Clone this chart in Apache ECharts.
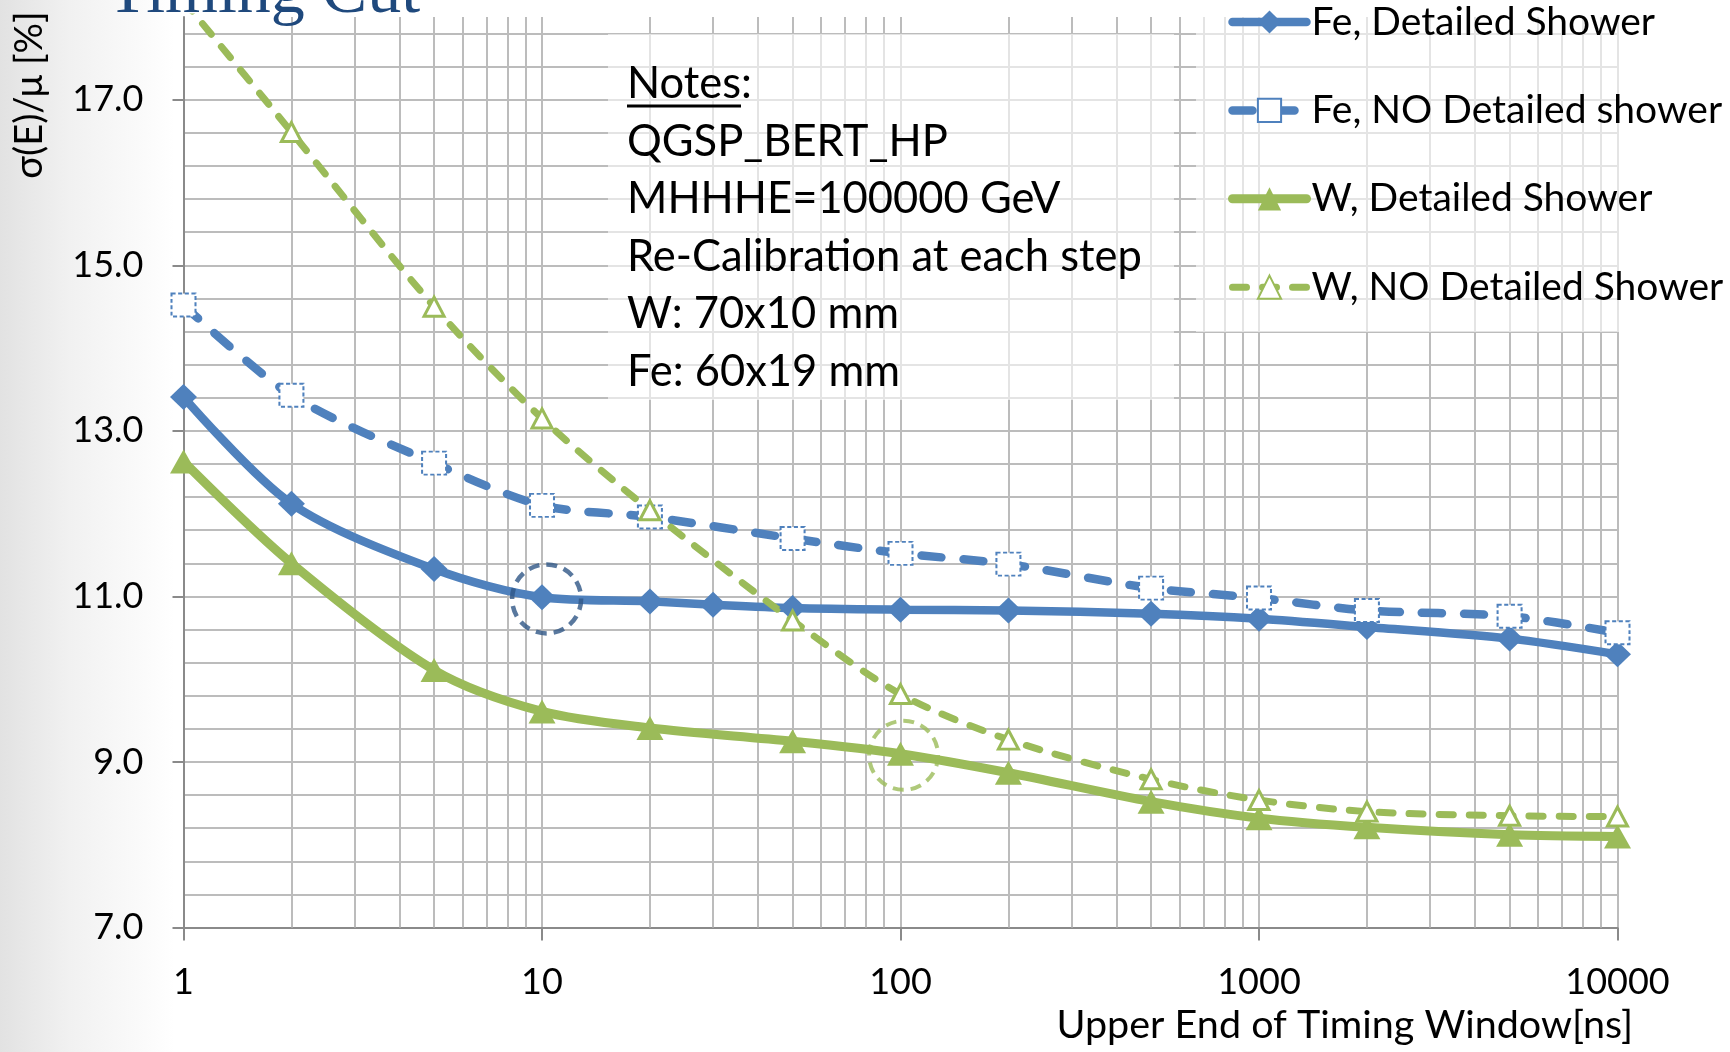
<!DOCTYPE html>
<html><head><meta charset="utf-8">
<script src="https://cdn.jsdelivr.net/npm/echarts@6/dist/echarts.min.js"></script>
<style>
html,body{margin:0;padding:0;width:1730px;height:1052px;overflow:hidden;background:#fff;}
#c{width:1730px;height:1052px;background:linear-gradient(90deg,#e2e2e2 0px,#f1f1f1 70px,#ffffff 175px);}
</style></head><body><div id="c"></div>
<script>
// ---- data ----
const timesFull = [1, 2, 5, 10, 20, 30, 50, 100, 200, 500, 1000, 2000, 5000, 10000];
const timesMain = [1, 2, 5, 10, 20, 50, 100, 200, 500, 1000, 2000, 5000, 10000];
const feDetailed   = [13.41, 12.12, 11.33, 10.99, 10.94, 10.90, 10.86, 10.84, 10.83, 10.79, 10.73, 10.63, 10.49, 10.30];
const feNoDetailed = [14.52, 13.43, 12.61, 12.10, 11.96, 11.70, 11.52, 11.39, 11.10, 10.98, 10.83, 10.76, 10.56];
const wDetailed    = [12.63, 11.40, 10.11, 9.61, 9.41, 9.25, 9.10, 8.87, 8.52, 8.32, 8.21, 8.12, 8.10];
const wNoDetailed  = [18.2, 16.61, 14.50, 13.15, 12.04, 10.71, 9.82, 9.27, 8.79, 8.54, 8.40, 8.35, 8.34];
const seriesNames = ['Fe, Detailed Shower', 'Fe, NO Detailed shower', 'W, Detailed Shower', 'W, NO Detailed Shower'];
const yTickLabels = [7, 9, 11, 13, 15, 17];
const xTickLabels = [1, 10, 100, 1000, 10000];
const highlightFe = [[10.3, 10.97]];
const highlightW = [[102, 9.08]];
const notesLines = ['Notes:', 'QGSP_BERT_HP', 'MHHHE=100000 GeV', 'Re-Calibration at each step', 'W: 70x10 mm', 'Fe: 60x19 mm'];
const chartTitle = 'Timing Cut';
const yTitle = 'σ(E)/μ [%]';
const xTitle = 'Upper End of Timing Window[ns]';

// minor log grid values 2..9 in every decade
const minorGridX = [];
xTickLabels.slice(0, -1).forEach(d => { for (let m = 2; m <= 9; m++) minorGridX.push(d * m); });

const BLUE = '#4F81BD', GREEN = '#9BBB59', GRID = '#bcbcbc', AXIS = '#8a8a8a';
const FONT = 'Lato, "Noto Sans", sans-serif';
const pair = (xs, ys) => xs.map((x, i) => [x, ys[i]]);

const chart = echarts.init(document.getElementById('c'), null, {renderer: 'canvas'});

const graphics = [
  {type: 'rect', shape: {x: 608, y: 34, width: 566, height: 366}, style: {fill: 'rgba(255,255,255,0.6)'}, z: 4, silent: true},
  {type: 'rect', shape: {x: 1196, y: 0, width: 534, height: 332}, style: {fill: 'rgba(255,255,255,0.6)'}, z: 4, silent: true},
  {type: 'text', x: 107, y: -6, z: 10, silent: true,
   style: {text: chartTitle, fontSize: 68, fontFamily: '"Liberation Serif", serif', fill: '#1F497D', align: 'left', verticalAlign: 'middle'}},
  {type: 'text', x: 30, y: 95, rotation: Math.PI / 2, z: 10, silent: true,
   style: {text: yTitle, fontSize: 38, fontFamily: FONT, fill: '#000', align: 'center', verticalAlign: 'middle'}},
  {type: 'text', x: 1633, y: 1025, z: 10, silent: true,
   style: {text: xTitle, fontSize: 39.5, fontFamily: FONT, fill: '#000', align: 'right', verticalAlign: 'middle'}},
  {type: 'line', shape: {x1: 627, y1: 106, x2: 741, y2: 106}, style: {stroke: '#000', lineWidth: 3}, z: 10, silent: true}
];
notesLines.forEach((t, i) => {
  graphics.push({type: 'text', x: 627, y: 98.3 + 57.5 * i - 13.9, z: 10, silent: true,
    style: {text: t, fontSize: 43.5, fontFamily: FONT, fill: '#000', align: 'left', verticalAlign: 'middle'}});
});

const option = {
  animation: false,
  backgroundColor: 'transparent',
  textStyle: {fontFamily: FONT},
  grid: {left: 183.5, right: 112.5, top: 17, bottom: 124.5, show: true, backgroundColor: '#fff', borderWidth: 0},
  xAxis: {
    type: 'log', logBase: 10, min: 1, max: 10000,
    axisLine: {lineStyle: {color: AXIS, width: 2}},
    axisTick: {length: 13, lineStyle: {color: AXIS, width: 2}},
    axisLabel: {fontSize: 36, color: '#000', margin: 37, fontFamily: FONT, formatter: v => String(v)},
    splitLine: {show: true, lineStyle: {color: GRID, width: 2}}
  },
  yAxis: [
    {type: 'value', position: 'left', min: 7, max: 18, interval: 0.4,
     axisLine: {show: true, lineStyle: {color: AXIS, width: 2}},
     axisTick: {show: false}, axisLabel: {show: false},
     splitLine: {show: true, showMaxLine: false, lineStyle: {color: GRID, width: 2}}},
    {type: 'value', position: 'left', min: 7, max: 18, interval: 2,
     axisLine: {show: false},
     axisTick: {show: true, length: 11, customValues: yTickLabels, lineStyle: {color: AXIS, width: 2}},
     axisLabel: {customValues: yTickLabels, fontSize: 36, color: '#000', margin: 40, fontFamily: FONT,
                 formatter: v => yTickLabels.indexOf(v) >= 0 ? v.toFixed(1) : ''},
     splitLine: {show: false}}
  ],
  legend: {
    data: seriesNames, orient: 'vertical', left: 1228, top: 2, padding: 0,
    itemWidth: 74, itemHeight: 29, itemGap: 48.4, selectedMode: false, z: 6,
    lineStyle: {width: 'inherit', type: 'inherit', cap: 'round'},
    textStyle: {fontSize: 39, color: '#000', fontFamily: FONT, lineHeight: 40}
  },
  graphic: graphics,
  series: [
    {name: seriesNames[0], type: 'line', data: pair(timesFull, feDetailed), smooth: 0.3,
     symbol: 'diamond', symbolSize: [27, 26], itemStyle: {color: BLUE}, lineStyle: {color: BLUE, width: 8.5, cap: 'round'}, z: 3,
     markLine: {silent: true, z: 1, symbol: ['none', 'none'], label: {show: false},
                lineStyle: {type: 'solid', color: GRID, width: 2}, emphasis: {disabled: true}, animation: false,
                data: minorGridX.map(v => ({xAxis: v}))}},
    {name: seriesNames[1], type: 'line', data: pair(timesMain, feNoDetailed), smooth: 0.3,
     symbol: 'rect', symbolSize: [24, 23], itemStyle: {color: '#fff', borderColor: BLUE, borderWidth: 2, borderType: [4, 2.5]},
     lineStyle: {color: BLUE, width: 8.5, type: [20, 22], cap: 'round'}, z: 3},
    {name: seriesNames[2], type: 'line', data: pair(timesMain, wDetailed), smooth: 0.3,
     symbol: 'triangle', symbolSize: [27, 24], itemStyle: {color: GREEN}, lineStyle: {color: GREEN, width: 9, cap: 'round'}, z: 3},
    {name: seriesNames[3], type: 'line', data: pair(timesMain, wNoDetailed), smooth: 0.3,
     symbol: 'triangle', symbolSize: [20, 19], itemStyle: {color: '#fff', borderColor: GREEN, borderWidth: 3},
     lineStyle: {color: GREEN, width: 7, type: [14, 16], cap: 'round'}, z: 3},
    {type: 'scatter', data: highlightFe, symbol: 'circle', symbolSize: 69, silent: true, z: 6,
     itemStyle: {color: 'rgba(0,0,0,0)', borderColor: '#2f5686', borderWidth: 4.5, borderType: [11, 7]}},
    {type: 'scatter', data: highlightW, symbol: 'circle', symbolSize: 69, silent: true, z: 6,
     itemStyle: {color: 'rgba(0,0,0,0)', borderColor: GREEN, borderWidth: 4, borderType: [11, 7]}}
  ]
};
chart.setOption(option);
</script>
</body></html>
